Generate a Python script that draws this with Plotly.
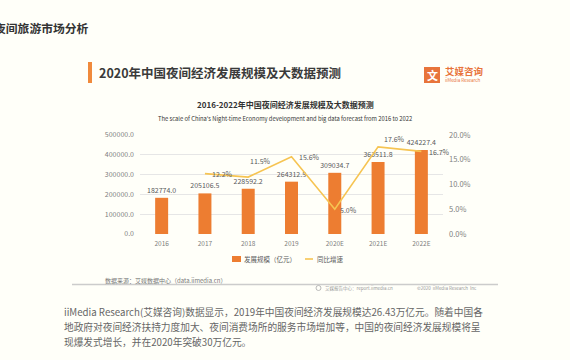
import plotly.graph_objects as go

# ---------------- data ----------------
categories = ["2016", "2017", "2018", "2019", "2020E", "2021E", "2022E"]
scale_values = [182774.0, 205106.5, 228592.2, 264312.5, 309034.7, 363511.8, 424227.4]
growth_categories = ["2017", "2018", "2019", "2020E", "2021E", "2022E"]
growth_values = [0.122, 0.115, 0.156, 0.050, 0.176, 0.167]
bar_name = "发展规模（亿元）"
line_name = "同比增速"

# label offsets (styling) for growth labels: (xshift, yshift)
growth_label_offsets = [(5, 0), (0, 16), (5, 0), (3, -1), (4, 8), (6, -1)]

W, H = 570, 360
L, R, T, B = 140, 443, 135, 234
FONT = "Noto Sans CJK SC, Noto Sans, sans-serif"
ORANGE = "#ed7d31"
YELLOW = "#f6c452"
GREY_TXT = "#595959"
BG = "#fffff9"

cat_pos = {c: i for i, c in enumerate(categories)}
bar_x = [cat_pos[c] for c in categories]
growth_x = [cat_pos[c] for c in growth_categories]


def PX(x):
    return (x - L) / (R - L)


def PY(y):
    return (B - y) / (B - T)


fig = go.Figure()
fig.add_trace(go.Bar(
    x=bar_x, y=scale_values, name=bar_name,
    marker=dict(color=ORANGE, line=dict(width=0)), width=0.3,
    text=[f"{v:.1f}" for v in scale_values], textposition="outside",
    constraintext="none",
    textfont=dict(family=FONT, size=7, color=GREY_TXT),
    cliponaxis=False, showlegend=False,
))
fig.add_trace(go.Scatter(
    x=growth_x, y=growth_values, name=line_name, yaxis="y2",
    mode="lines", line=dict(color=YELLOW, width=1.6), showlegend=False,
))

ann = []
for gx, v, (dx, dy) in zip(growth_x, growth_values, growth_label_offsets):
    ann.append(dict(x=gx, y=v, xref="x", yref="y2", text=f"{v*100:.1f}%",
                    showarrow=False, xanchor="left", yanchor="middle",
                    xshift=dx, yshift=dy,
                    font=dict(family=FONT, size=7, color=GREY_TXT)))


def txt(x, y, s, size, color="#333", anchor="left", bold=False, family=FONT):
    if bold:
        s = f"<b>{s}</b>"
    ann.append(dict(x=PX(x), y=PY(y), xref="paper", yref="paper", text=s,
                    showarrow=False, xanchor=anchor, yanchor="middle",
                    font=dict(family=family, size=size, color=color)))


# page heading (cut off at left)
txt(91, 27, "夜间旅游市场分析", 11.8, "#333", anchor="right", bold=True)
# card title
txt(97, 72, "2020年中国夜间经济发展规模及大数据预测", 12.5, "#3a3a3a", bold=True)
# logo texts
txt(424 + 8, 75, "文", 11, "white", anchor="center", bold=True)
txt(443, 71, "艾媒咨询", 9.5, "#e8743b", bold=True)
txt(443, 80, "iiMedia Research", 4.5, "#e8743b")
# chart titles
txt(285, 104, "2016-2022年中国夜间经济发展规模及大数据预测", 8, "#333", anchor="center", bold=True)
txt(285, 118, "The scale of China's Night-time Economy development and big data forecast from 2016 to 2022",
    5.8, "#333", anchor="center")
# legend
txt(242, 259, bar_name, 6.5, GREY_TXT)
txt(315, 259, line_name, 6.5, GREY_TXT)
# source
txt(103, 280, "数据来源：艾媒数据中心（data.iimedia.cn）", 6, "#777")
txt(323, 288, "艾媒报告中心：report.iimedia.cn", 4.5, "#999")
txt(415, 288, "©2020  iiMedia Research  Inc", 4.5, "#999")
# paragraph
para = [
    "iiMedia Research(艾媒咨询)数据显示，2019年中国夜间经济发展规模达26.43万亿元。随着中国各",
    "地政府对夜间经济扶持力度加大、夜间消费场所的服务市场增加等，中国的夜间经济发展规模将呈",
    "现爆发式增长，并在2020年突破30万亿元。",
]
for i, line in enumerate(para):
    txt(62, 312 + i * 15, line, 9.7, "#666")

shapes = [
    dict(type="rect", xref="paper", yref="paper", x0=PX(88), x1=PX(92), y0=PY(83), y1=PY(62),
         fillcolor="#f08a3c", line=dict(width=0)),
    dict(type="rect", xref="paper", yref="paper", x0=PX(424), x1=PX(440), y0=PY(83), y1=PY(67),
         fillcolor="#e8743b", line=dict(width=0)),
    dict(type="rect", xref="paper", yref="paper", x0=PX(232), x1=PX(241), y0=PY(262), y1=PY(256),
         fillcolor=ORANGE, line=dict(width=0)),
    dict(type="line", xref="paper", yref="paper", x0=PX(305), x1=PX(313), y0=PY(259), y1=PY(259),
         line=dict(color=YELLOW, width=1.6)),
    dict(type="line", xref="paper", yref="paper", x0=PX(72), x1=PX(498), y0=PY(284.5), y1=PY(284.5),
         line=dict(color="#cccccc", width=1.5)),
    dict(type="circle", xref="paper", yref="paper", x0=PX(316), x1=PX(321), y0=PY(290.5), y1=PY(285.5),
         line=dict(color="#aaa", width=0.8)),
]

fig.update_layout(
    width=W, height=H,
    margin=dict(l=L, r=W - R, t=T, b=H - B, pad=0),
    paper_bgcolor=BG, plot_bgcolor=BG,
    font=dict(family=FONT, size=7, color="#808080"),
    xaxis=dict(range=[-0.5, len(categories) - 0.5], tickmode="array", tickvals=bar_x,
               ticktext=categories, showgrid=False, showline=False, zeroline=False, ticks="",
               tickfont=dict(size=6.5, color="#808080"), ticklabelstandoff=4, fixedrange=True),
    yaxis=dict(range=[0, 500000], dtick=100000, tickformat=".1f", showgrid=True,
               gridcolor="#e6e6e6", gridwidth=1, zeroline=False, showline=False, ticks="",
               tickfont=dict(size=7, color="#808080"), ticklabelstandoff=5),
    yaxis2=dict(range=[0, 0.2], dtick=0.05, tickformat=".1%", overlaying="y", side="right",
                showgrid=False, zeroline=False, showline=False, ticks="",
                tickfont=dict(size=7.5, color="#808080"), ticklabelstandoff=5),
    annotations=ann, shapes=shapes, showlegend=False,
)

fig.write_html(
    "out.html",
    config={"displayModeBar": False},
    post_script="document.body.style.margin='0';document.body.style.overflow='hidden';"
                "document.body.style.background='" + BG + "';",
)
